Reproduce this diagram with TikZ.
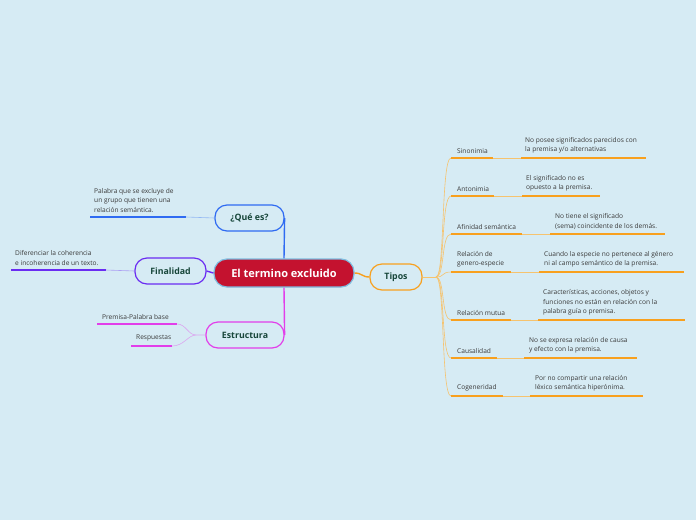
\documentclass[tikz,border=0pt]{standalone}
\usepackage{fontspec}
\setmainfont{Open Sans}
\definecolor{bg}{HTML}{D6EBF4}
\definecolor{crim}{HTML}{C4122F}
\definecolor{cborder}{HTML}{7DBCE0}
\definecolor{cblue}{HTML}{2F6BF2}
\definecolor{cpurp}{HTML}{6A2CF2}
\definecolor{cmag}{HTML}{E23EEA}
\definecolor{corg}{HTML}{F8A01E}
\definecolor{corgl}{HTML}{F6C36E}
\definecolor{ttext}{HTML}{17463A}
\definecolor{ltext}{HTML}{3A3A3A}
\tikzset{
  topic/.style={draw, line width=1.2pt, fill=bg, rounded corners=12pt, minimum height=26pt, inner sep=0pt, font=\fontsize{8.8}{10}\selectfont\bfseries, text=ttext},
  leaf/.style={inner sep=0pt, anchor=south west, align=left, font=\fontsize{6.6}{9.5}\selectfont, text=ltext},
  uline/.style={line width=1.6pt},
  thin/.style={line width=0.6pt}
}
\begin{document}
\begin{tikzpicture}[x=1pt,y=-1pt]
\useasboundingbox[fill=bg] (0,0) rectangle (696,520);
% central
\node[draw=cborder, line width=1.2pt, fill=crim, rounded corners=13pt, minimum width=140pt, minimum height=28pt, inner sep=0pt, text=white, font=\fontsize{11}{13}\selectfont\bfseries] (main) at (284,273) {El termino excluido};
% topics
\node[topic, draw=cblue, minimum width=69pt] (que) at (249.5,218) {¿Qué es?};
\node[topic, draw=cpurp, minimum width=71pt] (fin) at (170.5,271) {Finalidad};
\node[topic, draw=cmag, minimum width=78pt] (est) at (245,335) {Estructura};
\node[topic, draw=corg, minimum width=52pt] (tip) at (396,277) {Tipos};
% main connectors
\draw[cblue, line width=1.4pt] (main.north) -- (que.east);
\draw[cmag, line width=1.4pt] (main.south) -- (est.east);
\draw[cpurp, line width=1.4pt] (main.west) -- (fin.east);
\draw[corg, line width=1.4pt] (main.east) .. controls (362,273) and (362,277) .. (tip.west);

% Que es leaf
\coordinate (q1) at (90,217); \coordinate (q2) at (186,217);
\node[leaf] (qt) at (94,212.5) {Palabra que se excluye de\\un grupo que tienen una\\relación semántica.};
\draw[cblue, uline] (q1) -- (q2);
\draw[cblue!40!bg, thin] (q2) -- (que.west);

% Finalidad leaf
\coordinate (f1) at (11,270); \coordinate (f2) at (106,270);
\node[leaf] (ft) at (15,265.5) {Diferenciar la coherencia\\e incoherencia de un texto.};
\draw[cpurp, uline] (f1) -- (f2);
\draw[cpurp!40!bg, thin] (f2) -- (fin.west);

% Estructura leaves
\coordinate (e0) at (196,335);
\coordinate (e1a) at (97,324); \coordinate (e1b) at (177,324);
\coordinate (e2a) at (131,346); \coordinate (e2b) at (172,346);
\node[leaf] (et1) at (102,319.5) {Premisa-Palabra base};
\node[leaf] (et2) at (136,341.5) {Respuestas};
\draw[cmag, uline] (e1a) -- (e1b);
\draw[cmag, uline] (e2a) -- (e2b);
\draw[cmag!40!bg, thin] (est.west) -- (e0) .. controls (188,335) and (186,324) .. (e1b);
\draw[cmag!40!bg, thin] (e0) .. controls (188,335) and (184,346) .. (e2b);

% Tipos branches
\coordinate (t0) at (436,277);
\draw[corgl, thin] (tip.east) -- (t0);
\foreach \n/\y/\xa/\xb/\xc/\xd in {1/158/451/493/521/646, 2/196/451/494/522/600, 3/234/451/522/550/665, 4/272/451/511/539/684, 5/320/451/511/538/685, 6/358/451/497/524/637, 7/396/451/503/530/643}{
  \coordinate (a\n) at (\xa,\y); \coordinate (b\n) at (\xb,\y);
  \coordinate (c\n) at (\xc,\y); \coordinate (d\n) at (\xd,\y);
  \draw[corgl, thin] (t0) .. controls (445,277) and (441,\y) .. (a\n);
  \draw[corg, uline] (a\n) -- (b\n);
  \draw[corgl, thin] (b\n) -- (c\n);
  \draw[corg, uline] (c\n) -- (d\n);
}
\node[leaf] (s1) at (457,153.5) {Sinonimia};
\node[leaf] (s2) at (457,191.5) {Antonimia};
\node[leaf] (s3) at (457,229.5) {Afinidad semántica};
\node[leaf] (s4) at (457,267.5) {Relación de\\genero-especie};
\node[leaf] (s5) at (457,315.5) {Relación mutua};
\node[leaf] (s6) at (457,353.5) {Causalidad};
\node[leaf] (s7) at (457,391.5) {Cogeneridad};

\node[leaf] (x1) at (525,153.5) {No posee significados parecidos con\\la premisa y/o alternativas};
\node[leaf] (x2) at (526,191.5) {El significado no es\\opuesto a la premisa.};
\node[leaf] (x3) at (555,229.5) {No tiene el significado\\(sema) coincidente de los demás.};
\node[leaf] (x4) at (544,267.5) {Cuando la especie no pertenece al género\\ni al campo semántico de la premisa.};
\node[leaf] (x5) at (543,315.5) {Características, acciones, objetos y\\funciones no están en relación con la\\palabra guía o premisa.};
\node[leaf] (x6) at (529,353.5) {No se expresa relación de causa\\y efecto con la premisa.};
\node[leaf] (x7) at (535,391.5) {Por no compartir una relación\\léxico semántica hiperónima.};
\end{tikzpicture}
\end{document}
